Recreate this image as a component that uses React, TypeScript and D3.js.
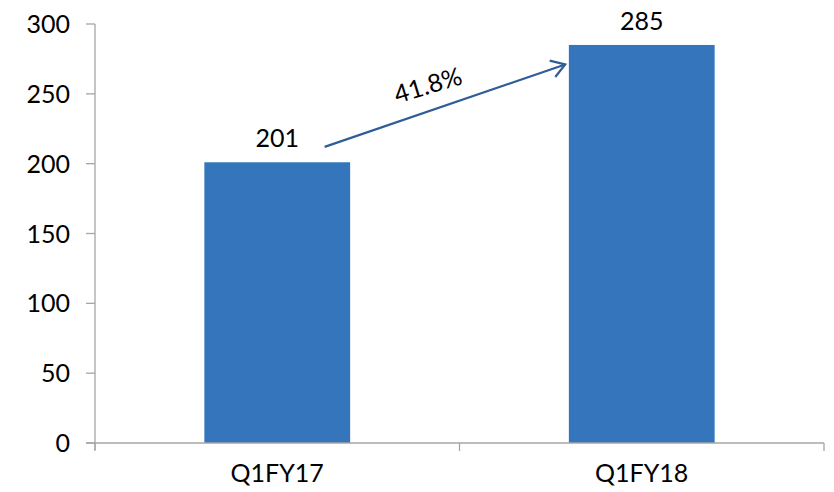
import React, { useEffect, useRef } from "react";
import * as d3 from "d3";

const categories = ["Q1FY17", "Q1FY18"];
const values = [201, 285];
const yTicks = [0, 50, 100, 150, 200, 250, 300];
const growthLabel = "41.8%";
// arrow endpoints in data terms: [category, offset within band (0..1), value]
const arrowFrom: [string, number, number] = ["Q1FY17", 0.63, 212];
const arrowTo: [string, number, number] = ["Q1FY18", 0.29, 271];

const App = () => {
  const ref = useRef<SVGSVGElement>(null);

  useEffect(() => {
    const svg = d3.select(ref.current);
    svg.selectAll("*").remove();
    const width = 834;
    const height = 492;
    const margin = { top: 24, right: 10, bottom: 48, left: 95 };
    const font = "'Lato', 'Noto Sans', sans-serif";
    const fs = "25px";
    const axisColor = "#a6a6a6";
    const barColor = "#3575bb";

    svg
      .attr("width", width)
      .attr("height", height)
      .style("position", "absolute")
      .style("left", "0px")
      .style("top", "0px");

    const x = d3
      .scaleBand()
      .domain(categories)
      .range([margin.left, 824])
      .paddingInner(0)
      .paddingOuter(0);
    const y = d3
      .scaleLinear()
      .domain([0, 300])
      .range([443, margin.top]);

    const bw = x.bandwidth() * 0.4;

    // bars
    svg
      .append("g")
      .selectAll("rect")
      .data(values)
      .enter()
      .append("rect")
      .attr("x", (d, i) => x(categories[i])! + (x.bandwidth() - bw) / 2)
      .attr("y", (d) => y(d))
      .attr("width", bw)
      .attr("height", (d) => y(0) - y(d))
      .attr("fill", barColor);

    // value labels
    svg
      .append("g")
      .selectAll("text")
      .data(values)
      .enter()
      .append("text")
      .attr("x", (d, i) => x(categories[i])! + x.bandwidth() / 2)
      .attr("y", (d) => y(d) - 15)
      .attr("text-anchor", "middle")
      .style("font-family", font)
      .style("font-size", fs)
      .style("fill", "#000")
      .text((d) => d);

    // y axis
    const ya = svg.append("g");
    ya.append("line")
      .attr("x1", margin.left)
      .attr("x2", margin.left)
      .attr("y1", y(300))
      .attr("y2", y(0) + 7)
      .attr("stroke", axisColor)
      .attr("stroke-width", 1.3);
    ya.selectAll("line.tick")
      .data(yTicks)
      .enter()
      .append("line")
      .attr("class", "tick")
      .attr("x1", margin.left - 9)
      .attr("x2", margin.left)
      .attr("y1", (d) => y(d))
      .attr("y2", (d) => y(d))
      .attr("stroke", axisColor)
      .attr("stroke-width", 1.3);
    ya.selectAll("text")
      .data(yTicks)
      .enter()
      .append("text")
      .attr("x", 70)
      .attr("y", (d) => y(d))
      .attr("dy", "0.36em")
      .attr("text-anchor", "end")
      .style("font-family", font)
      .style("font-size", fs)
      .style("fill", "#000")
      .text((d) => d);

    // x axis
    const xa = svg.append("g");
    xa.append("line")
      .attr("x1", margin.left - 9)
      .attr("x2", 824)
      .attr("y1", y(0))
      .attr("y2", y(0))
      .attr("stroke", axisColor)
      .attr("stroke-width", 1.3);
    const xTickPos = categories.map((c) => x(c)!).concat([824]);
    xa.selectAll("line.tick")
      .data(xTickPos)
      .enter()
      .append("line")
      .attr("class", "tick")
      .attr("x1", (d) => d)
      .attr("x2", (d) => d)
      .attr("y1", y(0))
      .attr("y2", y(0) + 8)
      .attr("stroke", axisColor)
      .attr("stroke-width", 1.3);
    xa.selectAll("text")
      .data(categories)
      .enter()
      .append("text")
      .attr("x", (d) => x(d)! + x.bandwidth() / 2)
      .attr("y", 482)
      .attr("text-anchor", "middle")
      .style("font-family", font)
      .style("font-size", fs)
      .style("fill", "#000")
      .text((d) => d);

    // growth arrow
    const x1 = x(arrowFrom[0])! + x.bandwidth() * arrowFrom[1];
    const y1 = y(arrowFrom[2]);
    const x2 = x(arrowTo[0])! + x.bandwidth() * arrowTo[1];
    const y2 = y(arrowTo[2]);
    const ang = Math.atan2(y2 - y1, x2 - x1);
    const arrowColor = "#2e5d98";
    svg
      .append("line")
      .attr("x1", x1)
      .attr("y1", y1)
      .attr("x2", x2)
      .attr("y2", y2)
      .attr("stroke", arrowColor)
      .attr("stroke-width", 2.2);
    const headLen = 16;
    const headAng = Math.PI / 5.5;
    const head = d3.line()([
      [x2 - headLen * Math.cos(ang - headAng), y2 - headLen * Math.sin(ang - headAng)],
      [x2, y2],
      [x2 - headLen * Math.cos(ang + headAng), y2 - headLen * Math.sin(ang + headAng)],
    ]);
    svg
      .append("path")
      .attr("d", head)
      .attr("fill", "none")
      .attr("stroke", arrowColor)
      .attr("stroke-width", 2.2);

    const deg = (ang * 180) / Math.PI;
    const t = 0.44;
    const mx = x1 + (x2 - x1) * t;
    const my = y1 + (y2 - y1) * t;
    svg
      .append("text")
      .attr("transform", `translate(${mx},${my - 17}) rotate(${deg + 2})`)
      .attr("text-anchor", "middle")
      .style("font-family", font)
      .style("font-size", fs)
      .style("fill", "#000")
      .text(growthLabel);
  }, []);

  return <svg ref={ref}></svg>;
};

export default App;
